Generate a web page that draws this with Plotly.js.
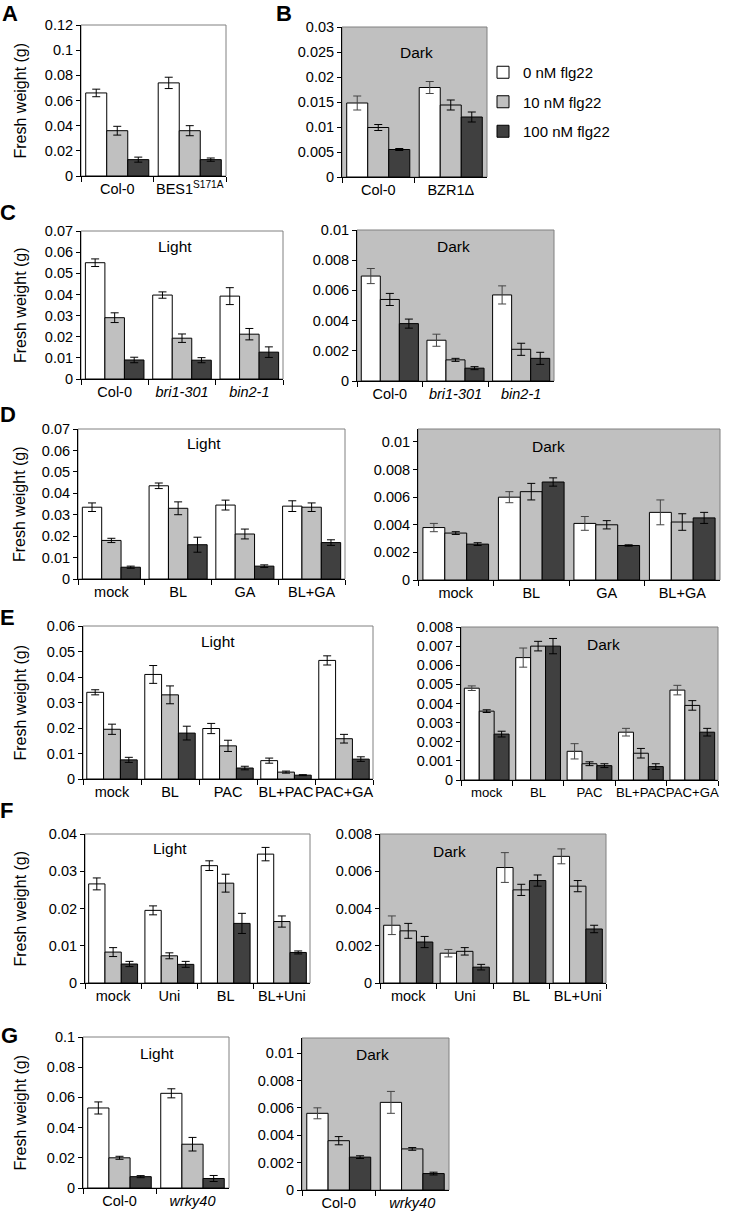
<!DOCTYPE html>
<html>
<head>
<meta charset="utf-8">
<script src="https://cdn.plot.ly/plotly-3.0.1.min.js"></script>
<style>
  body { margin: 0; background: #fff; }
  #chart { width: 741px; height: 1215px; }
</style>
</head>
<body>
<div id="chart"></div>
<script>
// fresh weight panels A-G, three flg22 doses per genotype/treatment

const doses = ["0 nM flg22", "10 nM flg22", "100 nM flg22"];
const barColors = ["#ffffff", "#c0c0c0", "#404040"];

// A
const aCats = ["Col-0", "BES1<sup>S171A</sup>"];
const a0 = [0.066, 0.074], a0e = [0.003, 0.0045];
const a10 = [0.036, 0.036], a10e = [0.0035, 0.004];
const a100 = [0.013, 0.013], a100e = [0.002, 0.0013];
// B (dark)
const bCats = ["Col-0", "BZR1\u0394"];
const b0 = [0.0148, 0.0179], b0e = [0.0014, 0.0012];
const b10 = [0.0099, 0.0144], b10e = [0.0006, 0.001];
const b100 = [0.0055, 0.012], b100e = [0.0002, 0.001];
// C light
const cCats = ["Col-0", "<i>bri1-301</i>", "<i>bin2-1</i>"];
const cl0 = [0.055, 0.0397, 0.0392], cl0e = [0.0018, 0.0015, 0.004];
const cl10 = [0.029, 0.0193, 0.0212], cl10e = [0.0023, 0.002, 0.0027];
const cl100 = [0.009, 0.0089, 0.0127], cl100e = [0.0013, 0.0012, 0.0025];
// C dark
const cd0 = [0.00695, 0.0027, 0.0057], cd0e = [0.0005, 0.0004, 0.0006];
const cd10 = [0.0054, 0.0014, 0.0021], cd10e = [0.0004, 0.0001, 0.0004];
const cd100 = [0.0038, 0.00085, 0.0015], cd100e = [0.0003, 0.0001, 0.0004];
// D
const dCats = ["mock", "BL", "GA", "BL+GA"];
const dl0 = [0.0335, 0.0435, 0.0345, 0.034], dl0e = [0.002, 0.0013, 0.0023, 0.0025];
const dl10 = [0.018, 0.033, 0.021, 0.0335], dl10e = [0.001, 0.003, 0.0023, 0.002];
const dl100 = [0.0055, 0.016, 0.006, 0.017], dl100e = [0.0005, 0.0035, 0.0006, 0.0013];
const dd0 = [0.0038, 0.006, 0.0041, 0.0049], dd0e = [0.0003, 0.0004, 0.0005, 0.0009];
const dd10 = [0.0034, 0.0064, 0.004, 0.0042], dd10e = [0.0001, 0.0006, 0.0003, 0.0006];
const dd100 = [0.0026, 0.0071, 0.0025, 0.0045], dd100e = [0.0001, 0.0003, 0.00005, 0.0004];
// E
const eCats = ["mock", "BL", "PAC", "BL+PAC", "PAC+GA"];
const el0 = [0.034, 0.041, 0.0198, 0.0072, 0.0465], el0e = [0.001, 0.0035, 0.002, 0.001, 0.0018];
const el10 = [0.0195, 0.033, 0.013, 0.0027, 0.0158], el10e = [0.002, 0.0035, 0.0022, 0.0004, 0.0017];
const el100 = [0.0075, 0.018, 0.0043, 0.0015, 0.0078], el100e = [0.001, 0.0027, 0.0007, 0.0002, 0.0009];
const ed0 = [0.0048, 0.0064, 0.0015, 0.0025, 0.0047], ed0e = [0.00012, 0.0005, 0.0004, 0.0002, 0.00025];
const ed10 = [0.0036, 0.007, 0.00085, 0.0014, 0.0039], ed10e = [0.00007, 0.00025, 0.0001, 0.00025, 0.00025];
const ed100 = [0.0024, 0.007, 0.00075, 0.0007, 0.0025], ed100e = [0.00015, 0.0004, 0.0001, 0.00015, 0.0002];
// F
const fCats = ["mock", "Uni", "BL", "BL+Uni"];
const fl0 = [0.0266, 0.0195, 0.0315, 0.0346], fl0e = [0.0016, 0.0012, 0.0013, 0.0018];
const fl10 = [0.0083, 0.0073, 0.0268, 0.0165], fl10e = [0.0012, 0.0008, 0.0024, 0.0015];
const fl100 = [0.0051, 0.005, 0.016, 0.0082], fl100e = [0.0007, 0.0008, 0.0027, 0.0004];
const fd0 = [0.0031, 0.0016, 0.0062, 0.0068], fd0e = [0.0005, 0.0002, 0.0008, 0.0004];
const fd10 = [0.0028, 0.0017, 0.005, 0.0052], fd10e = [0.0004, 0.0002, 0.0003, 0.0003];
const fd100 = [0.0022, 0.00085, 0.0055, 0.0029], fd100e = [0.0003, 0.00015, 0.0003, 0.0002];
// G
const gCats = ["Col-0", "<i>wrky40</i>"];
const gl0 = [0.053, 0.0627], gl0e = [0.004, 0.003];
const gl10 = [0.02, 0.029], gl10e = [0.001, 0.0045];
const gl100 = [0.0075, 0.0063], gl100e = [0.0007, 0.002];
const gd0 = [0.0056, 0.0064], gd0e = [0.0004, 0.0008];
const gd10 = [0.0036, 0.003], gd10e = [0.0003, 0.0001];
const gd100 = [0.0024, 0.0012], gd100e = [0.0001, 0.0001];

const W = 741, H = 1215;
const font = "Liberation Sans, Arial, sans-serif";

// plot boxes in pixels: [left, right, top, bottom]
const panels = [
  { box: [81, 226, 25, 176], top: 0.12, dtick: 0.02, cats: aCats, m: [a0, a10, a100], e: [a0e, a10e, a100e], title: true },
  { box: [342, 487, 27, 177], top: 0.03, dtick: 0.005, cats: bCats, m: [b0, b10, b100], e: [b0e, b10e, b100e], dark: true, note: [416, 52] },
  { box: [81, 283, 231, 379], top: 0.07, dtick: 0.01, cats: cCats, m: [cl0, cl10, cl100], e: [cl0e, cl10e, cl100e], title: true, note: [175, 247] },
  { box: [357, 554, 230, 381], top: 0.01, dtick: 0.002, cats: cCats, m: [cd0, cd10, cd100], e: [cd0e, cd10e, cd100e], dark: true, note: [453, 246] },
  { box: [78, 345, 429, 579], top: 0.07, dtick: 0.01, cats: dCats, m: [dl0, dl10, dl100], e: [dl0e, dl10e, dl100e], title: true, note: [204, 444] },
  { box: [418, 720, 429, 580], top: 0.01094, dtick: 0.002, cats: dCats, m: [dd0, dd10, dd100], e: [dd0e, dd10e, dd100e], dark: true, note: [548, 446] },
  { box: [83, 373, 626, 779], top: 0.06, dtick: 0.01, cats: eCats, m: [el0, el10, el100], e: [el0e, el10e, el100e], title: true, note: [218, 642] },
  { box: [461, 718, 627, 780], top: 0.008, dtick: 0.001, cats: eCats, m: [ed0, ed10, ed100], e: [ed0e, ed10e, ed100e], dark: true, note: [603, 644], catSize: 13.2 },
  { box: [85, 310, 834, 983], top: 0.04, dtick: 0.01, cats: fCats, m: [fl0, fl10, fl100], e: [fl0e, fl10e, fl100e], title: true, note: [170, 848] },
  { box: [380, 606, 834, 983], top: 0.008, dtick: 0.002, cats: fCats, m: [fd0, fd10, fd100], e: [fd0e, fd10e, fd100e], dark: true, note: [450, 851] },
  { box: [83, 229, 1037, 1188], top: 0.1, dtick: 0.02, cats: gCats, m: [gl0, gl10, gl100], e: [gl0e, gl10e, gl100e], title: true, note: [157, 1053] },
  { box: [302, 449, 1038, 1190], top: 0.0111, dtick: 0.002, cats: gCats, m: [gd0, gd10, gd100], e: [gd0e, gd10e, gd100e], dark: true, note: [372, 1054] },
];

const letters = [["A", 10, 13], ["B", 284, 13], ["C", 8, 212], ["D", 8, 414], ["E", 7, 617], ["F", 6, 810], ["G", 9, 1035]];

const data = [];
const layout = {
  width: W, height: H,
  margin: { l: 0, r: 0, t: 0, b: 0 },
  paper_bgcolor: "#fff", plot_bgcolor: "rgba(0,0,0,0)",
  font: { family: font, color: "#000", size: 14 },
  barmode: "group", bargap: 0.13, bargroupgap: 0,
  showlegend: true,
  legend: {
    x: 483 / W, y: 1 - 56 / H, xanchor: "left", yanchor: "top",
    font: { size: 15 }, traceorder: "grouped", tracegroupgap: 7,
    bgcolor: "rgba(0,0,0,0)",
  },
  shapes: [], annotations: [],
};

panels.forEach((p, i) => {
  const s = i === 0 ? "" : String(i + 1);
  const [x0, x1, y0, y1] = p.box;
  layout["xaxis" + s] = {
    domain: [x0 / W, x1 / W], anchor: "y" + s, type: "category",
    range: [-0.5, p.cats.length - 0.5],
    showline: true, linecolor: "#000", linewidth: 1,
    ticks: "outside", tickson: "boundaries", ticklen: 5, tickcolor: "#000",
    tickangle: 0, tickfont: { size: p.catSize || 14.5 }, showgrid: false, fixedrange: true,
  };
  layout["yaxis" + s] = {
    domain: [1 - y1 / H, 1 - y0 / H], anchor: "x" + s,
    range: [0, p.top], tick0: 0, dtick: p.dtick,
    showline: true, linecolor: "#000", linewidth: 1,
    ticks: "outside", ticklen: 4, tickcolor: "#000",
    tickfont: { size: 14.5 }, showgrid: false, zeroline: false, fixedrange: true,
  };
  layout.shapes.push({
    type: "rect", xref: "x" + s + " domain", yref: "y" + s + " domain",
    x0: 0, x1: 1, y0: 0, y1: 1, layer: "below",
    line: { color: "#808080", width: 1 },
    fillcolor: p.dark ? "#c0c0c0" : "rgba(0,0,0,0)",
  });
  for (let k = 0; k < 3; k++) {
    data.push({
      type: "bar", x: p.cats, y: p.m[k],
      xaxis: "x" + s, yaxis: "y" + s,
      name: doses[k], legendgroup: "d" + k, showlegend: i === 1,
      marker: { color: barColors[k], line: { color: "#000", width: 1 } },
      error_y: { type: "data", array: p.e[k], color: p.dark && k === 0 ? "#444" : "#000", thickness: 1, width: 4 },
    });
  }
  if (p.note) {
    layout.annotations.push({
      text: p.dark ? "Dark" : "Light", xref: "paper", yref: "paper",
      x: p.note[0] / W, y: 1 - p.note[1] / H, xanchor: "center", yanchor: "middle",
      showarrow: false, font: { size: 15.5 },
    });
  }
  if (p.title) {
    layout.annotations.push({
      text: "Fresh weight (g)", xref: "paper", yref: "paper", textangle: -90,
      x: 20 / W, y: 1 - (y0 + y1) / 2 / H, xanchor: "center", yanchor: "middle",
      showarrow: false, font: { size: 16 },
    });
  }
});

letters.forEach(([t, x, y]) => {
  layout.annotations.push({
    text: "<b>" + t + "</b>", xref: "paper", yref: "paper",
    x: x / W, y: 1 - y / H, xanchor: "center", yanchor: "middle",
    showarrow: false, font: { size: 22 },
  });
});

Plotly.newPlot("chart", data, layout, { staticPlot: true });
</script>
</body>
</html>
